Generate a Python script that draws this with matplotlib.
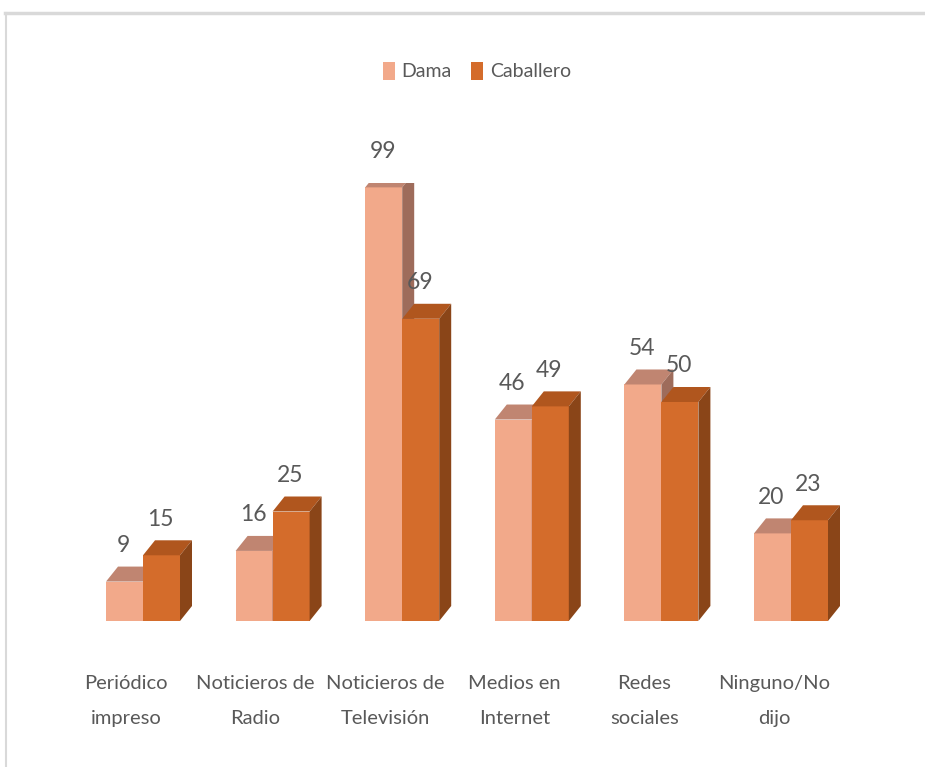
import matplotlib
matplotlib.use("Agg")
import matplotlib.pyplot as plt
from matplotlib.patches import Polygon, Patch
from matplotlib.lines import Line2D

categories = ["Periódico\nimpreso", "Noticieros de\nRadio", "Noticieros de\nTelevisión",
              "Medios en\nInternet", "Redes\nsociales", "Ninguno/No\ndijo"]
dama = [9, 16, 99, 46, 54, 20]
caballero = [15, 25, 69, 49, 50, 23]
series_names = ["Dama", "Caballero"]

plt.rcParams['font.family'] = ['Lato', 'DejaVu Sans']

W, H = 925, 767
fig = plt.figure(figsize=(W / 100, H / 100), dpi=100)

# axes placement in pixels
px_unit_x = 129.6
x0_px = 143.0
left_px = x0_px - 0.5 * px_unit_x
right_px = left_px + 6 * px_unit_x
base_px = 621.0
top_px = base_px - 4.38 * 100
ax = fig.add_axes([left_px / W, (H - base_px) / H, (right_px - left_px) / W, (base_px - top_px) / H])
ax.set_xlim(-0.5, 5.5)
ax.set_ylim(0, 100)
ax.axis('off')

bw = 37 / px_unit_x
dx = 12 / px_unit_x
dy = 15 / 4.38

styles = [
    dict(front="#F2A98A", top="#C08571", side="#9E6C5B"),
    dict(front="#D46C2B", top="#B0561E", side="#8A4518"),
]

text_color = "#595959"

def draw_bar(xl, h, st, z):
    ax.bar(xl, h, width=bw, align='edge', color=st["front"], zorder=z, linewidth=0)
    ax.add_patch(Polygon([(xl, h), (xl + bw, h), (xl + bw + dx, h + dy), (xl + dx, h + dy)],
                         closed=True, facecolor=st["top"], edgecolor='none', zorder=z))
    ax.add_patch(Polygon([(xl + bw, 0), (xl + bw + dx, dy), (xl + bw + dx, h + dy), (xl + bw, h)],
                         closed=True, facecolor=st["side"], edgecolor='none', zorder=z))
    ax.annotate(str(h), xy=(xl + bw / 2, h), xytext=(-1, 36), textcoords='offset pixels',
                ha='center', va='center', fontsize=16.5, color=text_color, zorder=z + 5,
                annotation_clip=False)

for i in range(len(categories)):
    draw_bar(i - bw, dama[i], styles[0], 2 + 2 * i)
    draw_bar(i, caballero[i], styles[1], 3 + 2 * i)
    ax.annotate(categories[i], xy=(i, 0), xytext=(-17, -80), textcoords='offset pixels',
                ha='center', va='center', fontsize=14.5, color=text_color, linespacing=2.35,
                annotation_clip=False)

handles = [Patch(facecolor=styles[0]["front"], edgecolor='none'),
           Patch(facecolor=styles[1]["front"], edgecolor='none')]
fig.legend(handles, series_names, loc='center', bbox_to_anchor=(477 / W, 1 - 71 / H),
           ncol=2, frameon=False, fontsize=14, handlelength=0.6, handleheight=1.1,
           handletextpad=0.35, columnspacing=1.0, labelcolor=text_color)

# chart frame (top and left edges visible)
fig.add_artist(Line2D([5 / W, 1], [1 - 12.5 / H, 1 - 12.5 / H], color="#D9D9D9", lw=2.5))
fig.add_artist(Line2D([6 / W, 6 / W], [0, 1 - 12.5 / H], color="#D9D9D9", lw=1.5))

fig.savefig("out.png", dpi=100, facecolor='white')
